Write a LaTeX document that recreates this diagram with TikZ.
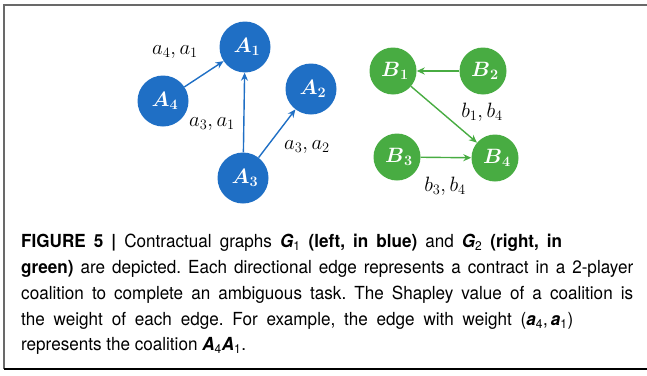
\documentclass[tikz,border=0pt]{standalone}
\usepackage{fontspec}
\usepackage{amsmath}
\usepackage{tikz}
\usetikzlibrary{arrows.meta,positioning}
\newfontfamily\capfont{TeX Gyre Heros}[FakeStretch=0.95]
\definecolor{gblue}{RGB}{31,111,197}
\definecolor{ggreen}{RGB}{72,172,66}
\definecolor{framegray}{RGB}{105,105,105}
\tikzset{
  playerA/.style={
    circle, fill=gblue, minimum size=51pt, inner sep=0pt,
    text=white, font=\fontsize{20}{24}\selectfont
  },
  playerB/.style={
    circle, fill=ggreen, minimum size=47pt, inner sep=0pt,
    text=white, font=\fontsize{20}{24}\selectfont
  },
  contractA/.style={-{Stealth[length=8pt,width=7pt]}, line width=1.4pt, gblue},
  contractB/.style={-{Stealth[length=8pt,width=7pt]}, line width=1.4pt, ggreen},
  weightlbl/.style={inner sep=0pt, font=\fontsize{20}{24}\selectfont},
  captext/.style={
    inner sep=0pt, align=left, anchor=north west,
    font=\capfont\fontsize{18}{25.8}\selectfont\frenchspacing
  }
}
\newcommand{\plyr}[2]{\hspace*{4pt}$\boldsymbol{#1}_{\boldsymbol{#2}}$}
\newcommand{\bsym}[2]{{\bfseries\itshape #1}\textsubscript{#2}}
\newcommand{\capline}[2]{\hbox to #1{\spaceskip=0.18em plus 1fil #2}}

\begin{document}
\begin{tikzpicture}[x=1pt, y=-1pt]
  \useasboundingbox (0,0) rectangle (647,375);
  % frame
  \draw[framegray, line width=1.8pt] (647,5) -- (4,5) -- (4,369);
  \draw[black, line width=1.4pt] (4,369) -- (647,369);

  % G1 (blue)
  \node[playerA] (A1) at (245,47)  {\plyr{A}{1}};
  \node[playerA] (A2) at (311,89)  {\plyr{A}{2}};
  \node[playerA] (A3) at (243,178) {\plyr{A}{3}};
  \node[playerA] (A4) at (163,101) {\plyr{A}{4}};

  \node[weightlbl] (w41) at (175,52)  {$a_4, a_1$};
  \node[weightlbl] (w31) at (212,124) {$a_3, a_1$};
  \node[weightlbl] (w32) at (307,147) {$a_3, a_2$};

  \draw[contractA] (A4) -- (A1);
  \draw[contractA] (A3) -- (A1);
  \draw[contractA] (A3) -- (A2);

  % G2 (green)
  \node[playerB] (B1) at (393,71)  {\plyr{B}{1}};
  \node[playerB] (B2) at (483,71)  {\plyr{B}{2}};
  \node[playerB] (B3) at (397,157) {\plyr{B}{3}};
  \node[playerB] (B4) at (495,158) {\plyr{B}{4}};

  \node[weightlbl] (w14) at (482,112) {$b_1, b_4$};
  \node[weightlbl] (w34) at (445,186) {$b_3, b_4$};

  \draw[contractB] (B2) -- (B1);
  \draw[contractB] (B1) -- (B4);
  \draw[contractB] (B3) -- (B4);

  % caption
  \node[captext] (cap) at (21,234) {%
    \capline{541pt}{\textbf{FIGURE 5 |} Contractual graphs \bsym{G}{1} \textbf{(left, in blue)} and \bsym{G}{2} \textbf{(right, in}}\\
    \capline{612pt}{\textbf{green)} are depicted. Each directional edge represents a contract in a 2-player}\\
    \capline{612pt}{coalition to complete an ambiguous task. The Shapley value of a coalition is}\\
    \capline{552pt}{the weight of each edge. For example, the edge with weight (\bsym{a}{4},\,\bsym{a}{1})}\\
    represents the coalition \bsym{A}{4}\bsym{A}{1}.};
\end{tikzpicture}
\end{document}
